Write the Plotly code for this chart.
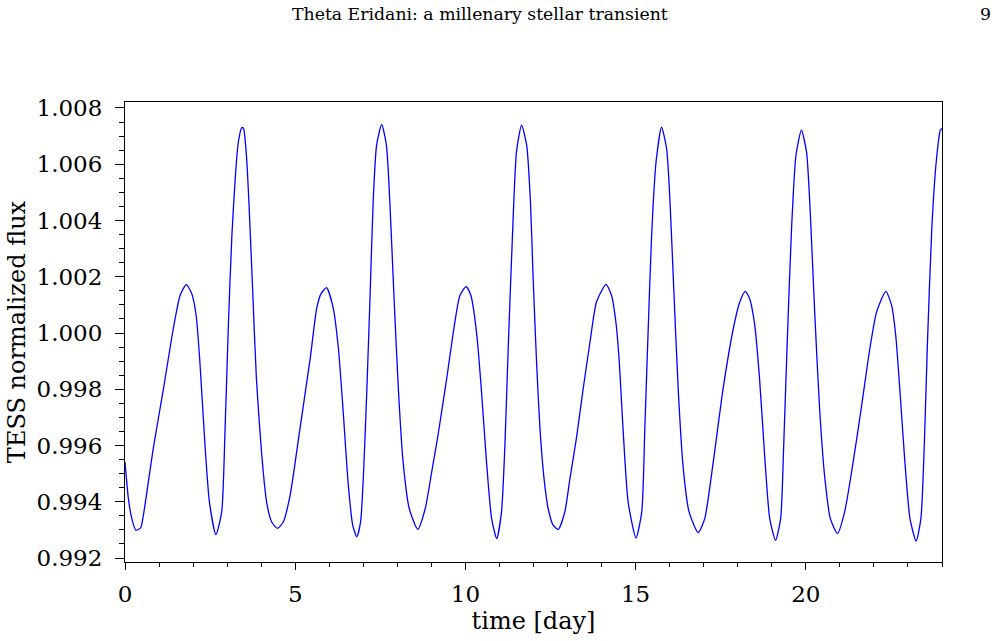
import plotly.graph_objects as go

# Light curve (time in days, TESS normalized flux)
time_day = [
    0.00, 0.10, 0.20, 0.32, 0.46, 0.54, 0.83, 1.13, 1.42, 1.62, 1.80, 1.96, 2.09, 2.20, 2.35, 2.48,
    2.67, 2.84, 2.94, 3.04, 3.14, 3.25, 3.33, 3.43, 3.48, 3.57, 3.64, 3.74, 3.86, 4.01, 4.16, 4.31,
    4.48, 4.65, 4.85, 5.14, 5.44, 5.63, 5.76, 5.92, 6.12, 6.27, 6.41, 6.56, 6.69, 6.81, 6.92, 7.00,
    7.10, 7.20, 7.29, 7.39, 7.54, 7.68, 7.78, 7.90, 8.03, 8.17, 8.35, 8.60, 8.82, 9.01, 9.21, 9.45,
    9.69, 9.84, 10.02, 10.16, 10.25, 10.35, 10.48, 10.62, 10.77, 10.92, 11.06, 11.16, 11.26, 11.39,
    11.50, 11.65, 11.80, 11.91, 11.99, 12.09, 12.19, 12.31, 12.43, 12.58, 12.73, 12.92, 13.07, 13.26,
    13.46, 13.66, 13.85, 14.13, 14.29, 14.42, 14.52, 14.63, 14.78, 15.01, 15.18, 15.27, 15.37, 15.47,
    15.60, 15.76, 15.91, 16.01, 16.12, 16.25, 16.40, 16.57, 16.84, 17.03, 17.28, 17.57, 17.87, 18.06,
    18.22, 18.35, 18.50, 18.64, 18.79, 18.94, 19.11, 19.26, 19.35, 19.45, 19.58, 19.71, 19.87, 20.02,
    20.13, 20.26, 20.41, 20.56, 20.72, 20.93, 21.14, 21.39, 21.64, 21.88, 22.08, 22.35, 22.52, 22.64,
    22.76, 22.91, 23.06, 23.24, 23.38, 23.48, 23.57, 23.70, 23.83, 23.95, 24.00,
]
flux = [
    0.99541, 0.99411, 0.99340, 0.99299, 0.99307, 0.99352, 0.99589, 0.99802, 1.00016, 1.00134, 1.00172, 1.00140, 1.00063, 0.99897, 0.99601, 0.99399,
    0.99283, 0.99364, 0.99660, 1.00039, 1.00347, 1.00572, 1.00679, 1.00730, 1.00728, 1.00626, 1.00466, 1.00181, 0.99838, 0.99577, 0.99399, 0.99328,
    0.99305, 0.99328, 0.99423, 0.99660, 0.99909, 1.00087, 1.00140, 1.00161, 1.00087, 0.99944, 0.99719, 0.99459, 0.99316, 0.99275, 0.99328, 0.99482,
    0.99785, 1.00134, 1.00466, 1.00667, 1.00742, 1.00667, 1.00466, 1.00134, 0.99802, 0.99541, 0.99376, 0.99302, 0.99376, 0.99506, 0.99648, 0.99838,
    1.00039, 1.00134, 1.00165, 1.00134, 1.00075, 0.99974, 0.99779, 0.99541, 0.99340, 0.99269, 0.99364, 0.99601, 0.99956, 1.00371,
    1.00644, 1.00739, 1.00667, 1.00466, 1.00193, 0.99897, 0.99660, 0.99482, 0.99376, 0.99316, 0.99302, 0.99364, 0.99482, 0.99625,
    0.99802, 0.99968, 1.00110, 1.00173, 1.00134, 1.00039, 0.99897, 0.99660, 0.99399, 0.99271, 0.99364, 0.99660, 1.00016, 1.00347,
    1.00608, 1.00732, 1.00656, 1.00466, 1.00158, 0.99802, 0.99518, 0.99364, 0.99290, 0.99340, 0.99541, 0.99802, 1.00016, 1.00110,
    1.00148, 1.00122, 1.00027, 0.99838, 0.99565, 0.99340, 0.99263, 0.99340, 0.99601, 0.99956, 1.00371, 1.00632, 1.00721, 1.00644,
    1.00430, 1.00075, 0.99719, 0.99482, 0.99340, 0.99287, 0.99364, 0.99541, 0.99743, 0.99944, 1.00075, 1.00148, 1.00098, 0.99992,
    0.99802, 0.99541, 0.99340, 0.99260, 0.99340, 0.99601, 0.99956, 1.00371, 1.00608, 1.00721, 1.00727,
]

x_ticks = [0, 5, 10, 15, 20]
y_ticks = [0.992, 0.994, 0.996, 0.998, 1.000, 1.002, 1.004, 1.006, 1.008]
y_tick_labels = ["0.992", "0.994", "0.996", "0.998", "1.000", "1.002", "1.004", "1.006", "1.008"]

header_text = "Theta Eridani: a millenary stellar transient"
page_number = "9"

FONT = "DejaVu Serif"
TICK_SIZE = 23
TITLE_SIZE = 24

fig = go.Figure()
fig.add_trace(go.Scatter(
    x=time_day, y=flux, mode="lines",
    line=dict(color="#0000ff", width=1.3, shape="spline", smoothing=0.6),
    showlegend=False, hoverinfo="x+y",
))

fig.update_layout(
    width=999, height=641,
    margin=dict(l=125, r=57, t=102, b=79),
    paper_bgcolor="white", plot_bgcolor="white",
    font=dict(family=FONT, color="black", size=TICK_SIZE),
    xaxis=dict(
        range=[0, 24], tickvals=x_ticks, ticktext=[str(v) for v in x_ticks],
        showgrid=False, zeroline=False, showline=True, linecolor="black", linewidth=1,
        mirror=True, ticks="outside", ticklen=7, tickwidth=1, tickcolor="black",
        minor=dict(dtick=1, ticks="outside", ticklen=4, tickwidth=1, tickcolor="black", showgrid=False),
        tickfont=dict(family=FONT, size=TICK_SIZE), ticklabelstandoff=4,
        title=dict(text="time [day]", font=dict(family=FONT, size=TITLE_SIZE), standoff=4),
    ),
    yaxis=dict(
        range=[0.991858, 1.008213], tickvals=y_ticks, ticktext=y_tick_labels,
        showgrid=False, zeroline=False, showline=True, linecolor="black", linewidth=1,
        mirror=True, ticks="outside", ticklen=9, tickwidth=1, tickcolor="black",
        minor=dict(dtick=0.0005, tick0=0.992, ticks="outside", ticklen=5, tickwidth=1, tickcolor="black", showgrid=False),
        tickfont=dict(family=FONT, size=TICK_SIZE), ticklabelstandoff=8,
        title=dict(text="TESS normalized flux", font=dict(family=FONT, size=TITLE_SIZE), standoff=4),
    ),
    annotations=[
        dict(text=header_text, xref="paper", yref="paper", x=(480 - 125) / 817, y=1 + (102 - 14) / 460,
             showarrow=False, xanchor="center", yanchor="middle",
             font=dict(family=FONT, size=17.3, color="black")),
        dict(text=page_number, xref="paper", yref="paper", x=(985 - 125) / 817, y=1 + (102 - 14) / 460,
             showarrow=False, xanchor="center", yanchor="middle",
             font=dict(family=FONT, size=17.3, color="black")),
    ],
)

fig.write_html("out.html")
